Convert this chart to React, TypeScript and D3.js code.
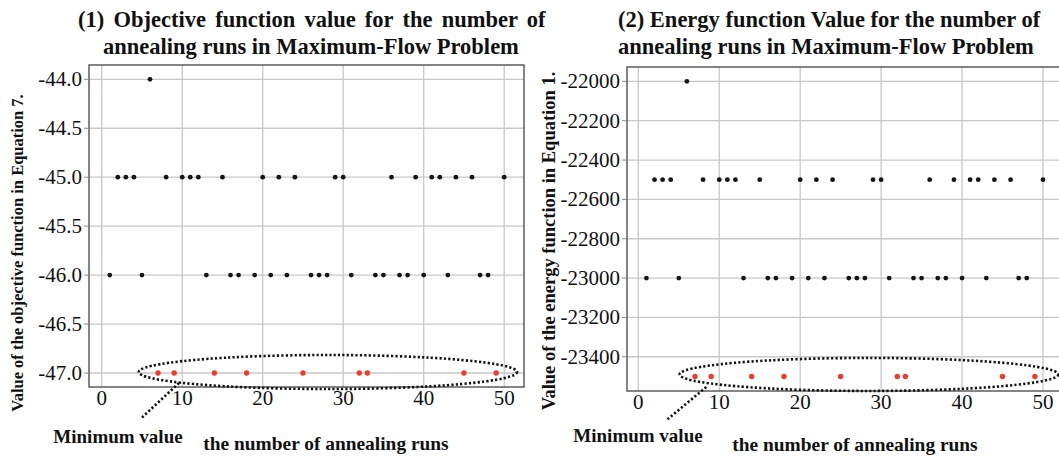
import * as d3 from 'd3';
import React, { useEffect, useRef } from 'react';

// run index for each annealing run
const runs = [
  1, 2, 3, 4, 5, 6, 7, 8, 9, 10, 11, 12, 13, 14, 15, 16, 17, 18, 19, 20, 21, 22, 23, 24, 25,
  26, 27, 28, 29, 30, 31, 32, 33, 34, 35, 36, 37, 38, 39, 40, 41, 42, 43, 44, 45, 46, 47, 48, 49, 50,
];

// objective function value (Equation 7) per run
const objectiveValues = [
  -46, -45, -45, -45, -46, -44, -47, -45, -47, -45, -45, -45, -46, -47, -45, -46, -46, -47, -46, -45, -46, -45, -46, -45, -47,
  -46, -46, -46, -45, -45, -46, -47, -47, -46, -46, -45, -46, -46, -45, -46, -45, -45, -46, -45, -47, -45, -46, -46, -47, -45,
];

// energy function value (Equation 1) per run
const energyValues = [
  -23000, -22500, -22500, -22500, -23000, -22000, -23500, -22500, -23500, -22500, -22500, -22500, -23000, -23500, -22500,
  -23000, -23000, -23500, -23000, -22500, -23000, -22500, -23000, -22500, -23500, -23000, -23000, -23000, -22500, -22500,
  -23000, -23500, -23500, -23000, -23000, -22500, -23000, -23000, -22500, -23000, -22500, -22500, -23000, -22500, -23500,
  -22500, -23000, -23000, -23500, -22500,
];

const xTicks = [0, 10, 20, 30, 40, 50];
const objectiveTicks = [-44.0, -44.5, -45.0, -45.5, -46.0, -46.5, -47.0];
const energyTicks = [-22000, -22200, -22400, -22600, -22800, -23000, -23200, -23400];

const SERIF = 'Liberation Serif, Times New Roman, serif';

const App = () => {
  const ref = useRef(null);

  useEffect(() => {
    const svg = d3.select(ref.current);
    svg.selectAll('*').remove();

    const drawPanel = (opts) => {
      const { left, right, top, bottom, xDomain, yDomain, values, yTicks, fmt, minValue } = opts;
      const g = svg.append('g');

      const x = d3.scaleLinear().domain(xDomain).range([left, right]);
      const y = d3.scaleLinear().domain(yDomain).range([bottom, top]);

      // grid
      g.selectAll('.vgrid')
        .data(xTicks)
        .join('line')
        .attr('x1', d => x(d)).attr('x2', d => x(d))
        .attr('y1', top).attr('y2', bottom)
        .attr('stroke', '#c8c8c8').attr('stroke-width', 1.3);
      g.selectAll('.hgrid')
        .data(yTicks)
        .join('line')
        .attr('x1', left).attr('x2', right)
        .attr('y1', d => y(d)).attr('y2', d => y(d))
        .attr('stroke', '#c8c8c8').attr('stroke-width', 1.3);

      // frame
      g.append('rect')
        .attr('x', left).attr('y', top)
        .attr('width', right - left).attr('height', bottom - top)
        .attr('fill', 'none').attr('stroke', '#444').attr('stroke-width', 1.3);

      // left ticks + labels
      g.selectAll('.ytick')
        .data(yTicks)
        .join('line')
        .attr('x1', left - 5).attr('x2', left)
        .attr('y1', d => y(d)).attr('y2', d => y(d))
        .attr('stroke', '#888');
      g.selectAll('.ylab')
        .data(yTicks)
        .join('text')
        .attr('x', left - 7)
        .attr('y', d => y(d) + 7)
        .attr('text-anchor', 'end')
        .attr('font-family', SERIF).attr('font-size', 21).attr('fill', '#111')
        .text(d => fmt(d));

      g.selectAll('.xlab')
        .data(xTicks)
        .join('text')
        .attr('x', d => x(d))
        .attr('y', bottom + 18)
        .attr('text-anchor', 'middle')
        .attr('font-family', SERIF).attr('font-size', 21).attr('fill', '#111')
        .text(d => d);

      // points
      g.selectAll('.pt')
        .data(runs.map((r, i) => [r, values[i]]))
        .join('circle')
        .attr('cx', d => x(d[0]))
        .attr('cy', d => y(d[1]))
        .attr('r', d => (d[1] === minValue ? 2.7 : 2.4))
        .attr('fill', d => (d[1] === minValue ? '#ee3b30' : '#151515'));

      return { x, y };
    };

    // (1) objective function
    const p1 = drawPanel({
      left: 89, right: 524, top: 65, bottom: 387,
      xDomain: [-1.58, 52.46], yDomain: [-47.143, -43.854],
      values: objectiveValues, yTicks: objectiveTicks, fmt: d => d.toFixed(1), minValue: -47,
    });
    // (2) energy function
    const p2 = drawPanel({
      left: 627, right: 1064, top: 67, bottom: 391,
      xDomain: [-1.4, 52.6], yDomain: [-23574, -21927],
      values: energyValues, yTicks: energyTicks, fmt: d => String(d), minValue: -23500,
    });

    // dotted ellipses + leader lines around the minimum values
    const dotted = sel => sel.attr('fill', 'none').attr('stroke', '#111')
      .attr('stroke-width', 2.6).attr('stroke-dasharray', '2.2,2.2');

    svg.append('ellipse')
      .attr('cx', p1.x(28.1)).attr('cy', p1.y(-47) - 1)
      .attr('rx', p1.x(23.5) - p1.x(0)).attr('ry', 17)
      .call(dotted);
    svg.append('line')
      .attr('x1', p1.x(9.6)).attr('y1', 383)
      .attr('x2', p1.x(4.8)).attr('y2', 419)
      .call(dotted);

    svg.append('ellipse')
      .attr('cx', p2.x(28.5)).attr('cy', p2.y(-23500) - 2)
      .attr('rx', p2.x(23.4) - p2.x(0)).attr('ry', 16.5)
      .call(dotted);
    svg.append('line')
      .attr('x1', p2.x(8.4)).attr('y1', 387)
      .attr('x2', p2.x(3.5)).attr('y2', 420)
      .call(dotted);

    const bold = (sel) => sel.attr('font-family', SERIF).attr('font-weight', 'bold').attr('fill', '#111');

    // titles
    svg.append('text').attr('x', 78).attr('y', 27).attr('font-size', 22.5).attr('word-spacing', 3.6).call(bold)
      .text('(1) Objective function value for the number of');
    svg.append('text').attr('x', 103).attr('y', 54).attr('font-size', 22.5).call(bold)
      .text('annealing runs in Maximum-Flow Problem');
    svg.append('text').attr('x', 618).attr('y', 27).attr('font-size', 22.5).call(bold)
      .text('(2) Energy function Value for the number of');
    svg.append('text').attr('x', 618).attr('y', 54).attr('font-size', 22.5).call(bold)
      .text('annealing runs in Maximum-Flow Problem');

    // axis titles
    svg.append('text').attr('x', 326).attr('y', 450).attr('text-anchor', 'middle').attr('font-size', 19.4).call(bold)
      .text('the number of annealing runs');
    svg.append('text').attr('x', 855).attr('y', 451).attr('text-anchor', 'middle').attr('font-size', 19.4).call(bold)
      .text('the number of annealing runs');
    svg.append('text').attr('x', 118).attr('y', 443).attr('text-anchor', 'middle').attr('font-size', 19).call(bold)
      .text('Minimum value');
    svg.append('text').attr('x', 638).attr('y', 442).attr('text-anchor', 'middle').attr('font-size', 19).call(bold)
      .text('Minimum value');

    svg.append('text')
      .attr('transform', 'translate(23,253) rotate(-90)')
      .attr('text-anchor', 'middle').attr('font-size', 16.5).call(bold)
      .text('Value of the objective function in Equation 7.');
    svg.append('text')
      .attr('transform', 'translate(555,241) rotate(-90)')
      .attr('text-anchor', 'middle').attr('font-size', 18.5).call(bold)
      .text('Value of the energy function in Equation 1.');
  }, []);

  return (
    <svg ref={ref} width={1059} height={456}
      style={{ position: 'absolute', left: 0, top: 0, background: '#fff' }} />
  );
};

export default App;
